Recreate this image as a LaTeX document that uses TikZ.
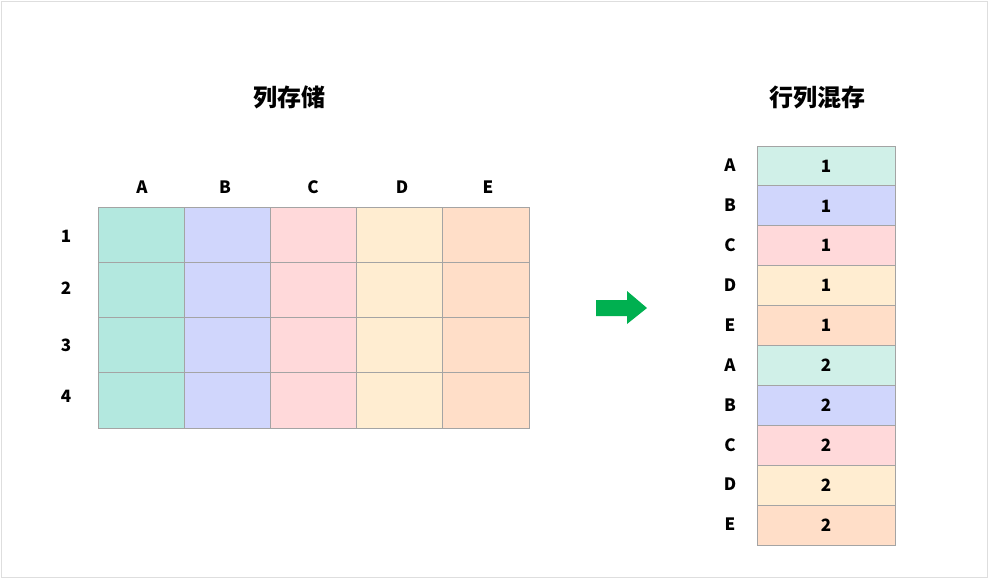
\documentclass[tikz,border=0pt]{standalone}
\usepackage{fontspec}
\setmainfont{Noto Sans CJK SC}
\usetikzlibrary{positioning}
\definecolor{colA}{HTML}{B3E8DF}
\definecolor{colAl}{HTML}{D0F0E8}
\definecolor{colB}{HTML}{D0D6FC}
\definecolor{colC}{HTML}{FFD9DA}
\definecolor{colD}{HTML}{FFEDD1}
\definecolor{colE}{HTML}{FFDEC8}
\definecolor{cellline}{HTML}{A4A4A4}
\definecolor{arrowgreen}{HTML}{00B050}
\tikzset{
    cell/.style={draw=cellline,line width=1pt,inner sep=0pt,font=\bfseries\fontsize{17}{20}\selectfont},
    lab/.style={inner sep=0pt,font=\bfseries\fontsize{17}{20}\selectfont},
    titre/.style={inner sep=0pt,font=\bfseries\fontsize{24}{28}\selectfont},
  }
\begin{document}
\begin{tikzpicture}[x=1pt,y=-1pt]
				  %cadre
				  \useasboundingbox (0,0) rectangle (989,579);
				  \draw[draw=black!13,line width=1pt] (1.5,1.5) rectangle (987.5,577.5);

				  %titres
				  \node[titre] (T_1) at (289,97) {列存储};
				  \node[titre] (T_2) at (817,97) {行列混存};

				  %grille stockage par colonnes
				  \foreach \c/\col/\x [count=\i] in {A/colA/142,B/colB/225,C/colC/313,D/colD/402,E/colE/488}{
				    \node[lab] (L_\c) at (\x,187) {\c};
				    \foreach \r in {1,...,4}
				      \node[cell,fill=\col,minimum width=86.2pt,minimum height=55.25pt]
				        (G_\c_\r) at (98+86.2*\i-43.1,207+55.25*\r-27.6) {};
				  }
				  \foreach \r/\y in {1/236,2/288,3/345,4/396}
				    \node[lab] (N_\r) at (66,\y) {\r};

				  %fleche
				  \fill[arrowgreen] (596,300) -- (627,300) -- (627,291) -- (647,308)
				       -- (627,324) -- (627,316) -- (596,316) -- cycle;

				  %colonne mixte
				  \foreach \c/\col/\n [count=\k] in {A/colAl/1,B/colB/1,C/colC/1,D/colD/1,E/colE/1,
				                                    A/colAl/2,B/colB/2,C/colC/2,D/colD/2,E/colE/2}{
				    \node[cell,fill=\col,minimum width=138pt,minimum height=39.9pt]
				      (M_\k) at (826,146+39.9*\k-19.95) {\n};
				    \node[lab] (K_\k) at (730,146+39.9*\k-20.5) {\c};
				  }
				  \end{tikzpicture}
\end{document}
